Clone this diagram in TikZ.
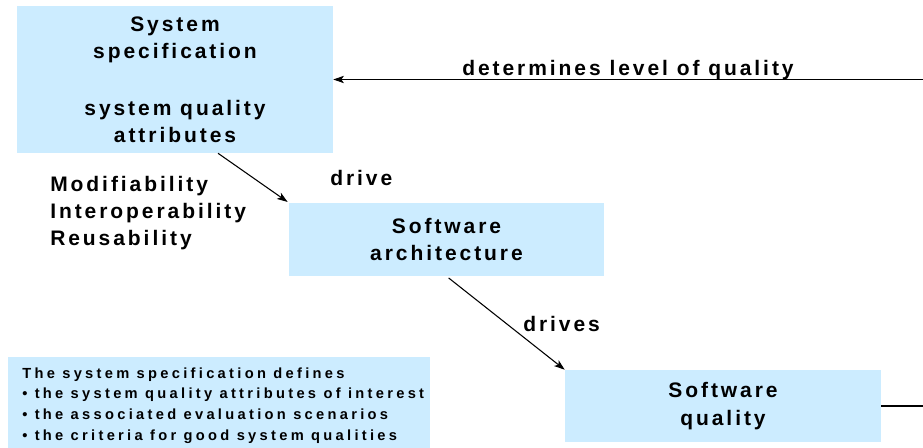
\documentclass[tikz,border=0pt]{standalone}
\usepackage{fontspec}
\setmainfont{Liberation Sans}
\newfontfamily\bigfont{Liberation Sans}[LetterSpace=14]
\newfontfamily\smallfont{Liberation Sans}[LetterSpace=22.5]
\usetikzlibrary{arrows.meta}
\definecolor{boxblue}{RGB}{204,236,255}
\tikzset{
  block/.style={fill=boxblue, inner sep=0pt, align=center,
    font={\bigfont\bfseries\fontsize{15.75}{20.5}\selectfont}},
  tag/.style={inner sep=0pt, anchor=base west, align=left,
    font={\bigfont\bfseries\fontsize{15.75}{20.5}\selectfont}},
  notebox/.style={fill=boxblue, inner sep=0pt},
  notetext/.style={inner sep=0pt, anchor=base west, align=left,
    font={\smallfont\bfseries\fontsize{11}{15.5}\selectfont}},
  link/.style={draw=black, line width=0.8pt, -{Stealth[length=8pt,width=5.5pt,inset=2pt]}}
}
\begin{document}
\begin{tikzpicture}[x=0.75pt,y=-0.75pt]
  \useasboundingbox (0,0) rectangle (923,448);
  % boxes
  \node[block, minimum width=237pt, minimum height=110.25pt] (spec) at (175,79.5)
    {System\\specification\\[22pt]system quality\\attributes};
  \node[block, minimum width=236.25pt, minimum height=54.75pt] (arch) at (446.5,239.5)
    {Software\\architecture};
  \node[block, minimum width=237pt, minimum height=54pt] (quality) at (723,406)
    {Software\\quality};
  \node[notebox, minimum width=316.5pt, minimum height=68.25pt] (note) at (219,402.5) {};
  \node[notetext] (notelines) at (22,440)
    {The system specification defines\\
     \textbullet{} the system quality attributes of interest\\
     \textbullet{} the associated evaluation scenarios\\
     \textbullet{} the criteria for good system qualities};
  % labels
  \node[tag] (attrs) at (50,246) {Modifiability\\Interoperability\\Reusability};
  \node[tag] (drive) at (330,186) {drive};
  \node[tag] (drives) at (523,332) {drives};
  \node[tag] (level) at (462,76) {determines level of quality};
  % connectors
  \draw[link, shorten >=1pt] ([xshift=32.25pt]spec.south) -- (arch.north west);
  \draw[link, shorten <=2pt] (arch.south) -- (quality.north west);
  \draw[link] (quality.east) -- ++(60,0) |- (spec.east);
\end{tikzpicture}
\end{document}
